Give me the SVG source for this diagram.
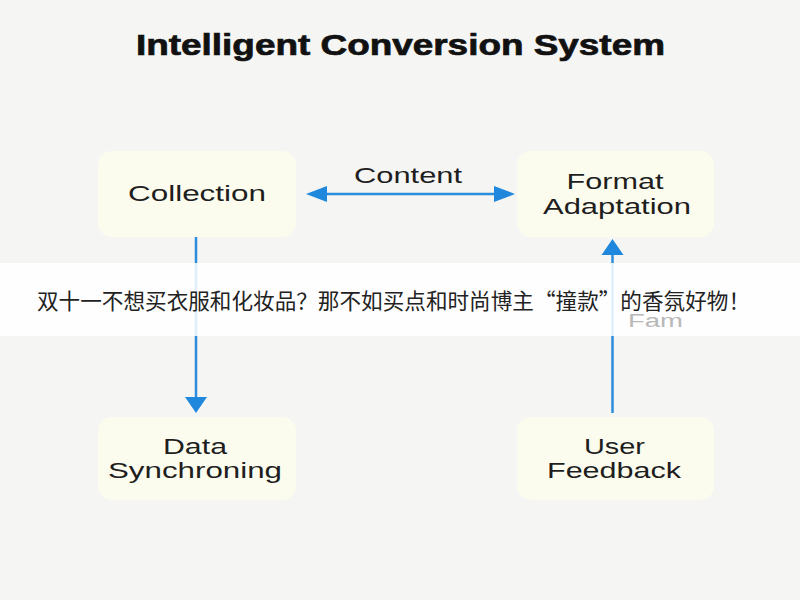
<svg xmlns="http://www.w3.org/2000/svg" width="800" height="600" viewBox="0 0 800 600">
  <defs>
    <style>
      .bg { fill: #f5f5f4; }
      .box { fill: #fcfcee; }
      .lbl { font-family: "Liberation Sans", Arial, sans-serif; font-size: 22px; fill: #1e1e1e; text-anchor: middle; }
      .title { font-family: "Liberation Sans", Arial, sans-serif; font-size: 29px; font-weight: bold; fill: #111; stroke: #111; stroke-width: 0.7; text-anchor: middle; }
      .conn { stroke: #2b8ddc; stroke-width: 2.5; fill: none; }
      .band { fill: #ffffff; opacity: 0.86; }
      .cn { font-family: "Noto Sans CJK SC", "Noto Sans", sans-serif; font-size: 21.5px; fill: #222; }
      .ghost { font-family: "Liberation Sans", Arial, sans-serif; font-size: 18px; fill: #b8b8b8; }
    </style>
    <marker id="ahH" markerUnits="userSpaceOnUse" markerWidth="22" markerHeight="17" refX="0" refY="8" orient="auto-start-reverse" overflow="visible">
      <path d="M0,0 L21,8 L0,16 z" fill="#1f88dd"/>
    </marker>
    <marker id="ahV" markerUnits="userSpaceOnUse" markerWidth="17" markerHeight="23" refX="0" refY="11" orient="auto-start-reverse" overflow="visible">
      <path d="M0,0 L16,11 L0,22 z" fill="#1f88dd"/>
    </marker>
  </defs>

  <rect class="bg" x="0" y="0" width="800" height="600"/>

  <text class="title" x="400.5" y="55" textLength="529" lengthAdjust="spacingAndGlyphs">Intelligent Conversion System</text>

  <g id="connectors">
    <line class="conn" x1="327" y1="194" x2="494" y2="194" marker-start="url(#ahH)" marker-end="url(#ahH)"/>
    <line class="conn" x1="196" y1="237" x2="196" y2="397" marker-end="url(#ahV)"/>
    <line class="conn" x1="612.5" y1="413" x2="612.5" y2="255" marker-end="url(#ahV)"/>
    <text class="lbl" x="408" y="183" textLength="108" lengthAdjust="spacingAndGlyphs">Content</text>
  </g>

  <g id="node-collection">
    <rect class="box" x="98" y="151" width="198" height="86" rx="14"/>
    <text class="lbl" x="197" y="201" textLength="138" lengthAdjust="spacingAndGlyphs">Collection</text>
  </g>

  <g id="node-format">
    <rect class="box" x="517" y="151" width="197" height="86" rx="14"/>
    <text class="lbl" x="615" y="189" textLength="97" lengthAdjust="spacingAndGlyphs">Format</text>
    <text class="lbl" x="617" y="214" textLength="148" lengthAdjust="spacingAndGlyphs">Adaptation</text>
  </g>

  <g id="node-data">
    <rect class="box" x="98" y="417" width="198" height="83" rx="14"/>
    <text class="lbl" x="195" y="454" textLength="64" lengthAdjust="spacingAndGlyphs">Data</text>
    <text class="lbl" x="195" y="478" textLength="174" lengthAdjust="spacingAndGlyphs">Synchroning</text>
  </g>

  <g id="node-feedback">
    <rect class="box" x="517" y="417" width="197" height="83" rx="14"/>
    <text class="lbl" x="614.5" y="454" textLength="61" lengthAdjust="spacingAndGlyphs">User</text>
    <text class="lbl" x="614" y="478" textLength="134" lengthAdjust="spacingAndGlyphs">Feedback</text>
  </g>

  <rect class="band" x="0" y="263" width="800" height="73"/>
  <text class="cn" x="37" y="309" textLength="713" lengthAdjust="spacingAndGlyphs">双十一不想买衣服和化妆品？那不如买点和时尚博主“撞款”的香氛好物！</text>
  <text class="ghost" x="628" y="327" textLength="55" lengthAdjust="spacingAndGlyphs">Fam</text>
</svg>
